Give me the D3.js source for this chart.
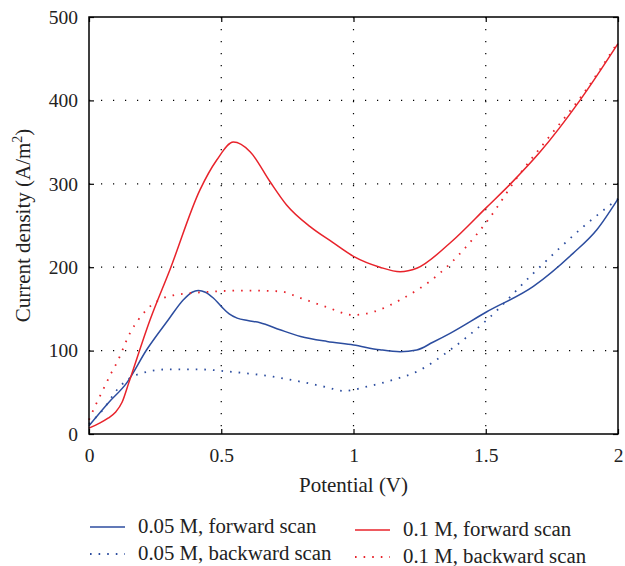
<!DOCTYPE html>
<html><head><meta charset="utf-8">
<script src="https://cdn.jsdelivr.net/npm/d3@7"></script>
<style>body{margin:0;background:#fff}svg{display:block}text{font-family:"Liberation Serif",serif;fill:#222}</style>
</head><body><svg id="c" width="625" height="566"></svg>
<script>
const xTicks=[0,0.5,1,1.5,2];
const xTickLabels=["0","0.5","1","1.5","2"];
const yTicks=[0,100,200,300,400,500];
const yTickLabels=["0","100","200","300","400","500"];
const seriesNames=["0.05 M, forward scan","0.05 M, backward scan","0.1 M, forward scan","0.1 M, backward scan"];
const blueFwd=[[0,10],[0.072,37],[0.142,61],[0.218,101],[0.3,137],[0.357,161],[0.39,170],[0.413,172],[0.44,170],[0.47,163],[0.5,153],[0.53,144],[0.56,139],[0.6,136],[0.647,133.5],[0.722,125],[0.8,117],[0.9,111],[1.0,106.7],[1.1,101],[1.176,98.7],[1.239,100.7],[1.3,110],[1.365,120.7],[1.504,146.6],[1.68,177],[1.83,216.6],[1.92,245],[2.0,282]];
const blueBwd=[[0,12],[0.047,27],[0.117,57],[0.18,71],[0.306,77.6],[0.407,77.6],[0.533,74.7],[0.697,68.7],[0.8,62.7],[0.9,56],[0.962,51.6],[1.05,56.7],[1.15,65],[1.239,74.7],[1.365,100.7],[1.504,136.7],[1.68,192.7],[1.869,248.6],[2.0,282]];
const redFwd=[[0,7],[0.04,13],[0.072,19],[0.1,26],[0.125,38],[0.15,61],[0.231,137],[0.306,197],[0.42,293],[0.483,328.5],[0.546,350],[0.609,338.5],[0.684,302.7],[0.747,274.6],[0.836,248.6],[0.92,230],[1.0,213],[1.1,200],[1.176,194.6],[1.239,198.7],[1.365,229],[1.504,272],[1.6,302],[1.705,338],[1.856,400],[2.0,468]];
const redBwd=[[0,17],[0.021,32],[0.047,49],[0.084,73],[0.106,86],[0.155,121],[0.218,149],[0.3,165],[0.407,169.5],[0.596,172],[0.722,171],[0.8,163],[0.9,152],[1.0,142.7],[1.08,147],[1.176,160.7],[1.327,193],[1.504,254.6],[1.63,312.5],[1.73,352.5],[1.87,408.6],[2.0,470]];
const BLUE="#2c4d9f", RED="#e8232b";
const svg=d3.select("#c");
const m={l:89,r:618,t:17,b:434};
const x=d3.scaleLinear().domain([0,2]).range([m.l,m.r]);
const y=d3.scaleLinear().domain([0,500]).range([m.b,m.t]);
const g=svg.append("g");
g.selectAll(".gx").data(xTicks.slice(1,-1)).join("line").attr("x1",d=>x(d)).attr("x2",d=>x(d)).attr("y1",m.t).attr("y2",m.b).attr("stroke","#000").attr("stroke-width",1.2).attr("stroke-dasharray","1.2,10.8");
g.selectAll(".gy").data(yTicks.slice(1,-1)).join("line").attr("y1",d=>y(d)).attr("y2",d=>y(d)).attr("x1",m.l).attr("x2",m.r).attr("stroke","#000").attr("stroke-width",1.2).attr("stroke-dasharray","1.2,10.8");
const ax=d3.axisBottom(x).tickValues(xTicks).tickFormat((d,i)=>xTickLabels[i]).tickSizeInner(-5).tickSizeOuter(0).tickPadding(14);
const ay=d3.axisLeft(y).tickValues(yTicks).tickFormat((d,i)=>yTickLabels[i]).tickSizeInner(-5).tickSizeOuter(0).tickPadding(11);
svg.append("g").attr("transform",`translate(0,${m.b})`).call(ax);
svg.append("g").attr("transform",`translate(${m.l},0)`).call(ay);
svg.append("g").attr("transform",`translate(0,${m.t})`).call(d3.axisTop(x).tickValues(xTicks).tickFormat("").tickSizeInner(-5).tickSizeOuter(0));
svg.append("g").attr("transform",`translate(${m.r},0)`).call(d3.axisRight(y).tickValues(yTicks).tickFormat("").tickSizeInner(-5).tickSizeOuter(0));
svg.selectAll(".domain").remove();
svg.selectAll("g[font-family]").attr("font-family",null);
svg.selectAll(".tick line").attr("stroke","#000").attr("stroke-width",1.2);
svg.selectAll(".tick text").attr("font-size",19.5).attr("fill","#222");
svg.append("rect").attr("x",m.l).attr("y",m.t).attr("width",m.r-m.l).attr("height",m.b-m.t).attr("fill","none").attr("stroke","#000").attr("stroke-width",1.5);
const line=d3.line().x(d=>x(d[0])).y(d=>y(d[1])).curve(d3.curveMonotoneX);
const series=[{d:blueFwd,c:BLUE,dash:null},{d:blueBwd,c:BLUE,dash:"1.6,7"},{d:redFwd,c:RED,dash:null},{d:redBwd,c:RED,dash:"1.6,7"}];
series.forEach(s=>{g.append("path").attr("d",line(s.d)).attr("fill","none").attr("stroke",s.c).attr("stroke-width",s.dash?1.8:1.5).attr("stroke-dasharray",s.dash);});
svg.append("text").attr("x",(m.l+m.r)/2).attr("y",492).attr("text-anchor","middle").attr("font-size",21).text("Potential (V)");
const yl=svg.append("text").attr("transform",`translate(30,${(m.t+m.b)/2}) rotate(-90)`).attr("text-anchor","middle").attr("font-size",21);
yl.append("tspan").text("Current density (A/m");
yl.append("tspan").attr("font-size",14).attr("dy",-8).text("2");
yl.append("tspan").attr("dy",8).text(")");
const leg=[{x:90,y:527},{x:90,y:554},{x:355,y:530},{x:355,y:557}];
series.forEach((s,i)=>{
  const p=leg[i];
  svg.append("line").attr("x1",p.x).attr("x2",p.x+35).attr("y1",p.y).attr("y2",p.y).attr("stroke",s.c).attr("stroke-width",s.dash?1.8:1.5).attr("stroke-dasharray",s.dash);
  svg.append("text").attr("x",p.x+48).attr("y",p.y+6).attr("font-size",20.8).text(seriesNames[i]);
});
</script></body></html>
